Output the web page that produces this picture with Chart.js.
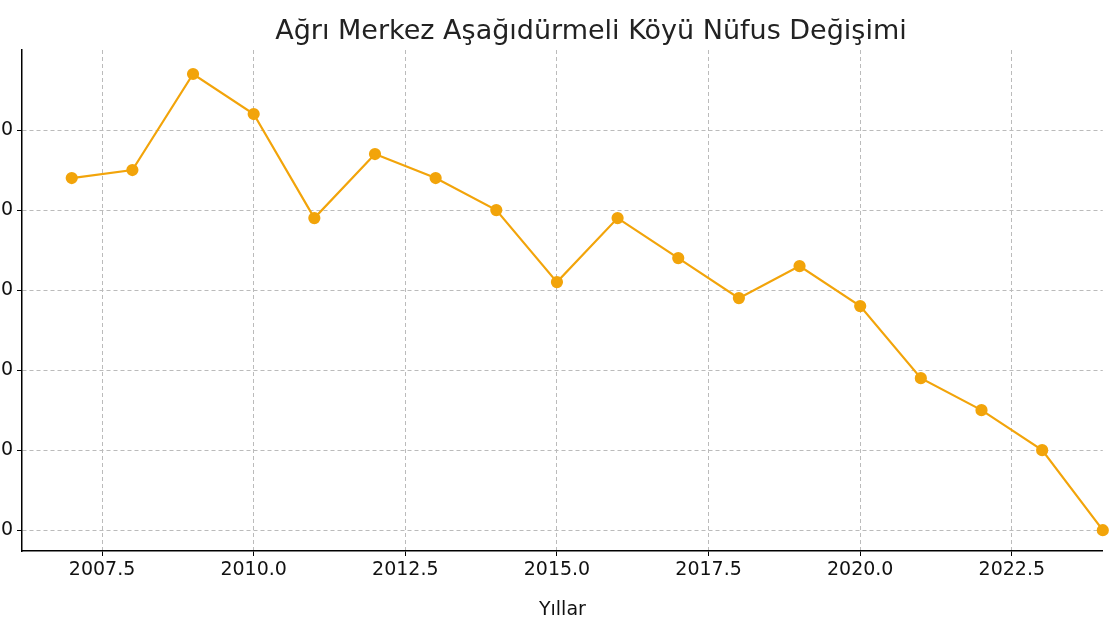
<!DOCTYPE html><html><head><script src="https://cdn.jsdelivr.net/npm/chart.js@4"></script>
<style>body{margin:0;overflow:hidden;background:#fff}#w{position:absolute;left:-40px;top:0;width:1150px;height:625px}</style></head><body><div id="w"><canvas id="c"></canvas></div>
<script>
const years=[2007,2008,2009,2010,2011,2012,2013,2014,2015,2016,2017,2018,2019,2020,2021,2022,2023,2024];
const population=[224,225,237,232,219,227,224,220,211,219,214,209,213,208,199,195,190,180];
const xTicks=[2007.5,2010,2012.5,2015,2017.5,2020,2022.5];
const yTicks=[180,190,200,210,220,230];
const chartTitle='Ağrı Merkez Aşağıdürmeli Köyü Nüfus Değişimi';
const F='DejaVu Sans';
const titlePlugin={id:'tp',afterDraw(ch){const c=ch.ctx;c.save();c.font='27px "'+F+'"';c.fillStyle='#222';c.textAlign='center';c.textBaseline='middle';c.fillText(chartTitle,631,32);c.restore();}};
new Chart(document.getElementById('c'),{type:'line',plugins:[titlePlugin],
data:{datasets:[{data:years.map((y,i)=>({x:y,y:population[i]})),borderColor:'#f2a40a',backgroundColor:'#f2a40a',borderWidth:2.2,pointRadius:5,pointHoverRadius:5,tension:0}]},
options:{responsive:true,maintainAspectRatio:false,animation:false,clip:false,
layout:{padding:{left:0,right:1,top:50,bottom:0}},
plugins:{legend:{display:false},tooltip:{enabled:false},title:{display:false}},
scales:{
x:{type:'linear',min:2006.18,max:2024.0,afterBuildTicks:a=>{a.ticks=xTicks.map(v=>({value:v}))},
ticks:{color:'#111',font:{family:F,size:19},maxRotation:0,callback:v=>v.toFixed(1),padding:3},
grid:{color:'#bbb',tickColor:'#000',tickLength:5},border:{color:'#000',width:1.5,dash:[4,3]},
title:{display:true,text:'Yıllar',color:'#111',font:{family:F,size:19},padding:{top:0}},
afterFit:a=>{a.height=74}},
y:{min:177.4,max:240,afterBuildTicks:a=>{a.ticks=yTicks.map(v=>({value:v}))},
ticks:{color:'#111',font:{family:F,size:19},padding:4},
grid:{color:'#bbb',tickColor:'#000',tickLength:5},border:{color:'#000',width:1.5,dash:[4,3]},
afterFit:a=>{a.width=62}}}}});
</script></body></html>
